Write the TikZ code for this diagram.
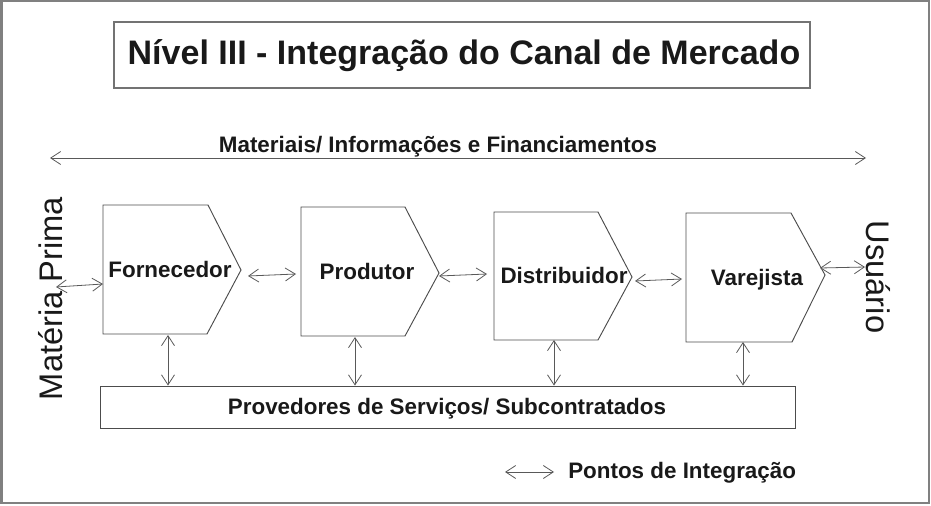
\documentclass[tikz,border=0pt]{standalone}
\usepackage{fontspec}
\setmainfont{Liberation Sans}
\usetikzlibrary{arrows.meta}
\begin{document}
\begin{tikzpicture}[x=0.75pt,y=-0.75pt,
  frame/.style={draw=black!50, line width=1.5pt},
  tframe/.style={draw=black!55, line width=1pt},
  stage/.style={draw=black!70, line width=0.7pt},
  link/.style={draw=black!65, line width=0.6pt,
    {Straight Barb[length=7.5pt,width=9.75pt]}-{Straight Barb[length=7.5pt,width=9.75pt]}},
  lbl/.style={font=\bfseries\fontsize{16.8pt}{20pt}\selectfont, anchor=base, inner sep=0pt, text=black!90},
  ttl/.style={font=\bfseries\fontsize{25.5pt}{30pt}\selectfont, anchor=base, inner sep=0pt, text=black!90},
  side/.style={font=\fontsize{24.5pt}{28pt}\selectfont, anchor=base, inner sep=0pt, text=black!90}
]
\useasboundingbox (0,0) rectangle (931,506);
\draw[frame] (1.5,1.5) rectangle (929,503);

% title
\draw[tframe] (114,22) rectangle (810,88);
\node[ttl] (title) at (464,65) {Nível III - Integração do Canal de Mercado};

% top flow
\node[lbl] (flow) at (438,152) {Materiais/ Informações e Financiamentos};
\coordinate (flowL) at (50,158);
\coordinate (flowR) at (866,158);
\draw[link] (flowL) -- (flowR);

% side labels
\node[side, rotate=90] (mp) at (62,298.5) {Matéria Prima};
\node[side, rotate=-90] (usu) at (866,277) {Usuário};

% stages
\draw[stage] (103,205) -- (208,205) -- (241,270) -- (207,334) -- (103,334) -- cycle;
\draw[stage] (301,207) -- (405,207) -- (439,273) -- (405,336) -- (301,336) -- cycle;
\draw[stage] (494,212) -- (598,212) -- (632,277) -- (598,340) -- (494,340) -- cycle;
\draw[stage] (686,213) -- (791,213) -- (825,275) -- (792,342) -- (686,342) -- cycle;
\node[lbl] (forn) at (170,277) {Fornecedor};
\node[lbl] (prod) at (367,279) {Produtor};
\node[lbl] (dist) at (564,283) {Distribuidor};
\node[lbl] (vare) at (757,285) {Varejista};

% bottom box
\node[draw=black!70, line width=0.7pt, minimum width=521.25pt, minimum height=31.5pt, inner sep=0pt] (prov) at (447.5,407) {};
\node[lbl] (provt) at (447,414) {Provedores de Serviços/ Subcontratados};

% horizontal connectors
\coordinate (a1) at (56,287);  \coordinate (b1) at (103,284);
\coordinate (a2) at (248,276); \coordinate (b2) at (296,274);
\coordinate (a3) at (439,276); \coordinate (b3) at (487,274);
\coordinate (a4) at (635,281); \coordinate (b4) at (682,279);
\coordinate (a5) at (820,268); \coordinate (b5) at (865,267);
\draw[link] (a1) -- (b1);
\draw[link] (a2) -- (b2);
\draw[link] (a3) -- (b3);
\draw[link] (a4) -- (b4);
\draw[link] (a5) -- (b5);

% vertical connectors
\coordinate (v1) at (168,335);
\coordinate (v2) at (355,337);
\coordinate (v3) at (554,340);
\coordinate (v4) at (743,342);
\draw[link] (v1) -- (v1 |- prov.north);
\draw[link] (v2) -- (v2 |- prov.north);
\draw[link] (v3) -- (v3 |- prov.north);
\draw[link] (v4) -- (v4 |- prov.north);

% legend
\coordinate (lgL) at (505,472);
\coordinate (lgR) at (554,472);
\draw[link] (lgL) -- (lgR);
\node[lbl, anchor=base west] (lgt) at (568,478) {Pontos de Integração};
\end{tikzpicture}
\end{document}
